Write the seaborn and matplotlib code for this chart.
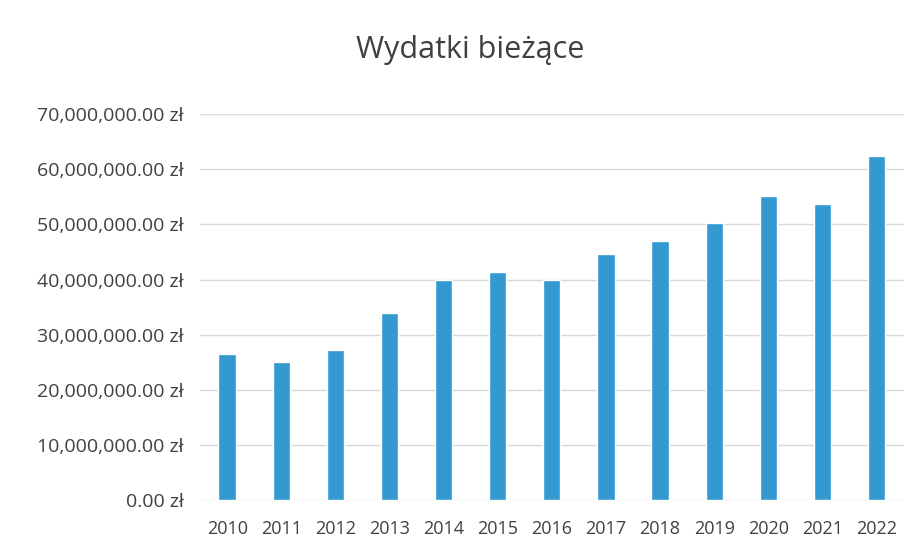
import matplotlib
matplotlib.use('Agg')
import matplotlib.pyplot as plt
import seaborn as sns
import pandas as pd
from matplotlib.ticker import FuncFormatter, MultipleLocator

years = ['2010', '2011', '2012', '2013', '2014', '2015', '2016',
         '2017', '2018', '2019', '2020', '2021', '2022']
wydatki = [26.6e6, 25.0e6, 27.2e6, 33.9e6, 39.9e6, 41.3e6, 39.9e6,
           44.6e6, 47.0e6, 50.2e6, 55.2e6, 53.8e6, 62.4e6]

df = pd.DataFrame({'rok': years, 'wydatki': wydatki})

sns.set_theme(style='white')
plt.rcParams['font.family'] = ['Open Sans', 'DejaVu Sans']

fig = plt.figure(figsize=(9.22, 5.57), dpi=100)
ax = fig.add_axes([0.217, 0.102, 0.763, 0.693])

sns.barplot(data=df, x='rok', y='wydatki', color='#3399D0', width=0.32,
            saturation=1, ax=ax, zorder=3)

ax.set_ylim(0, 70e6)
ax.yaxis.set_major_locator(MultipleLocator(10e6))
ax.yaxis.set_major_formatter(FuncFormatter(lambda v, _: f'{v:,.2f} zł'))
ax.grid(axis='y', color='#D9D9D9', linewidth=1, zorder=0)
ax.set_axisbelow(True)
for s in ax.spines.values():
    s.set_visible(False)
ax.tick_params(axis='y', length=0, labelsize=14, colors='#404040', pad=12)
ax.tick_params(axis='x', length=0, labelsize=13, colors='#404040', pad=14)
ax.set_xlabel('')
ax.set_ylabel('')

fig.text(0.51, 0.91, 'Wydatki bieżące', ha='center', va='center',
         fontsize=22, color='#404040')

fig.savefig('out.png', dpi=100, facecolor='white')
